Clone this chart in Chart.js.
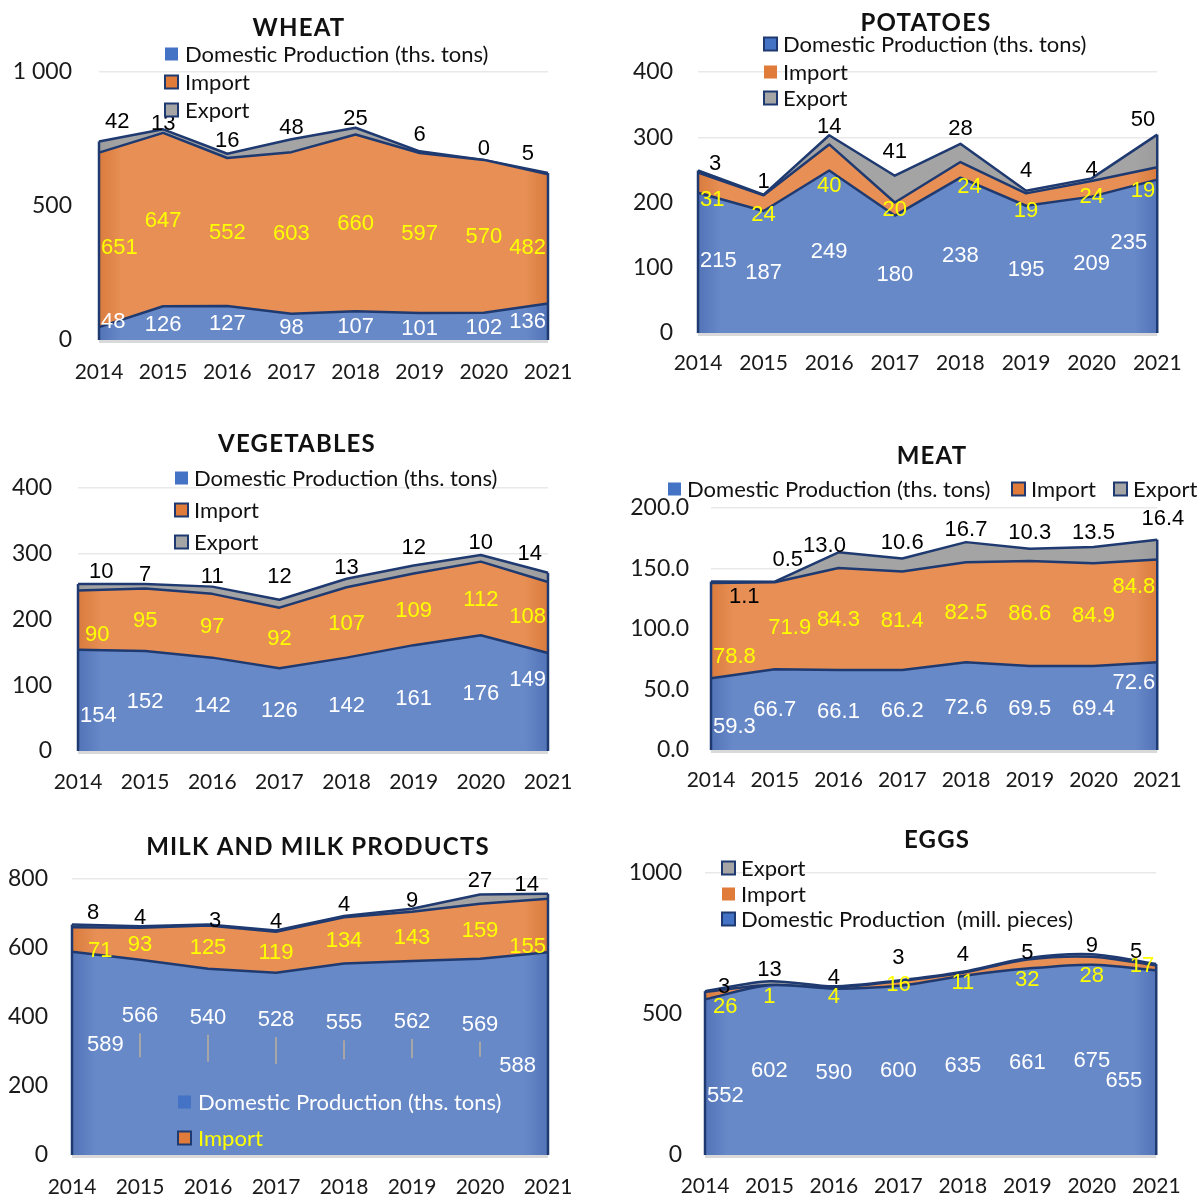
<!DOCTYPE html>
<html>
<head>
<meta charset="utf-8">
<title>Food balance 2014–2021</title>
<script src="https://cdn.jsdelivr.net/npm/chart.js@4.4.1/dist/chart.umd.min.js"></script>
<style>
  html, body { margin: 0; padding: 0; background: #ffffff; }
  #page { position: relative; width: 1199px; height: 1197px; overflow: hidden; }
  #page canvas { position: absolute; }
</style>
</head>
<body>
<div id="page">
  <canvas id="wheat" width="600" height="400" style="left:0;top:0"></canvas>
  <canvas id="potatoes" width="599" height="400" style="left:600px;top:0"></canvas>
  <canvas id="vegetables" width="600" height="410" style="left:0;top:400px"></canvas>
  <canvas id="meat" width="599" height="410" style="left:600px;top:400px"></canvas>
  <canvas id="milk" width="600" height="387" style="left:0;top:810px"></canvas>
  <canvas id="eggs" width="599" height="387" style="left:600px;top:810px"></canvas>
</div>
<script>
// ---- data -------------------------------------------------------------
const years = ['2014', '2015', '2016', '2017', '2018', '2019', '2020', '2021'];

const wheatDomestic = [48, 126, 127, 98, 107, 101, 102, 136];
const wheatImport   = [651, 647, 552, 603, 660, 597, 570, 482];
const wheatExport   = [42, 13, 16, 48, 25, 6, 0, 5];
const wheatTicks    = [0, 500, 1000];
const wheatTickText = ['0', '500', '1 000'];

const potatoDomestic = [215, 187, 249, 180, 238, 195, 209, 235];
const potatoImport   = [31, 24, 40, 20, 24, 19, 24, 19];
const potatoExport   = [3, 1, 14, 41, 28, 4, 4, 50];
const potatoTicks    = [0, 100, 200, 300, 400];
const potatoTickText = ['0', '100', '200', '300', '400'];

const vegDomestic = [154, 152, 142, 126, 142, 161, 176, 149];
const vegImport   = [90, 95, 97, 92, 107, 109, 112, 108];
const vegExport   = [10, 7, 11, 12, 13, 12, 10, 14];
const vegTicks    = [0, 100, 200, 300, 400];
const vegTickText = ['0', '100', '200', '300', '400'];

const meatDomestic = [59.3, 66.7, 66.1, 66.2, 72.6, 69.5, 69.4, 72.6];
const meatImport   = [78.8, 71.9, 84.3, 81.4, 82.5, 86.6, 84.9, 84.8];
const meatExport   = [1.1, 0.5, 13.0, 10.6, 16.7, 10.3, 13.5, 16.4];
const meatTicks    = [0, 50, 100, 150, 200];
const meatTickText = ['0.0', '50.0', '100.0', '150.0', '200.0'];

const milkDomestic = [589, 566, 540, 528, 555, 562, 569, 588];
const milkImport   = [71, 93, 125, 119, 134, 143, 159, 155];
const milkExport   = [8, 4, 3, 4, 4, 9, 27, 14];
const milkTicks    = [0, 200, 400, 600, 800];
const milkTickText = ['0', '200', '400', '600', '800'];

const eggDomestic = [552, 602, 590, 600, 635, 661, 675, 655];
const eggImport   = [26, 1, 4, 16, 11, 32, 28, 17];
const eggExport   = [3, 13, 4, 3, 4, 5, 9, 5];
const eggTicks    = [0, 500, 1000];
const eggTickText = ['0', '500', '1000'];

const nameTons   = 'Domestic Production (ths. tons)';
const namePieces = 'Domestic Production  (mill. pieces)';
const nameImport = 'Import';
const nameExport = 'Export';

// ---- styling ----------------------------------------------------------
const NAVY = '#1f3a70';
const FILLS = [
  { base: '#6789c8', edge: '#5274b8' },   // domestic production
  { base: '#e78f55', edge: '#d97b3d' },   // import
  { base: '#a4a4a4', edge: '#9c9c9c' }    // export
];
const SWATCH = ['#4472c4', '#e07b39', '#a5a5a5'];
const LABEL_COLORS = ['#ffffff', '#ffff00', '#000000'];
const LABEL_FONT = '22px "Liberation Sans", Arial, sans-serif';
const TEXT_FONT = 'Lato, "Noto Sans", sans-serif';

function edgeGradient(chart, s) {
  const a = chart.chartArea;
  if (!a) return FILLS[s].base;
  const g = chart.ctx.createLinearGradient(a.left, 0, a.right, 0);
  g.addColorStop(0, FILLS[s].edge);
  g.addColorStop(0.05, FILLS[s].base);
  g.addColorStop(0.95, FILLS[s].base);
  g.addColorStop(1, FILLS[s].edge);
  return g;
}

// label nudges in pixels (dy from the anchor, dx after clamping into the plot)
const specs = [
  {
    id: 'wheat', title: 'WHEAT', titleX: 299, titleY: 28,
    series: [wheatDomestic, wheatImport, wheatExport],
    names: [nameTons, nameImport, nameExport],
    ticks: wheatTicks, tickText: wheatTickText, fmt: v => String(v),
    area: { left: 99, right: 548, top: 72, bottom: 340 }, yPad: 27, xOff: 32, tension: 0,
    legend: [
      { s: 0, x: 165, tx: 185, y: 54, border: false },
      { s: 1, x: 165, tx: 185, y: 82, border: true },
      { s: 2, x: 165, tx: 185, y: 110, border: true }
    ],
    labels: [
      { anchor: 'center', dy: [-12, 2, 1, 1, 1, 2, 2, 0] },
      { anchor: 'center', dy: [8, 1, 1, 1, 1, 1, 1, 9] },
      { anchor: 'top', dy: [-19, -5, -13, -11, -9, -16, -11, -19], dx: [4, 0, 0, 0, 0, 0, 0, -12] }
    ]
  },
  {
    id: 'potatoes', title: 'POTATOES', titleX: 326, titleY: 23,
    series: [potatoDomestic, potatoImport, potatoExport],
    names: [nameTons, nameImport, nameExport],
    ticks: potatoTicks, tickText: potatoTickText, fmt: v => String(v),
    area: { left: 98, right: 568, top: 72, bottom: 333 }, yPad: 25, xOff: 30, tension: 0,
    legend: [
      { s: 0, x: 164, tx: 183, y: 44, border: true },
      { s: 1, x: 164, tx: 183, y: 72, border: false },
      { s: 2, x: 164, tx: 183, y: 98, border: true }
    ],
    labels: [
      { anchor: 'center', dy: [-2, 1, 0, 1, 1, 1, -1, -13], dx: [0, 0, 0, 0, 0, 0, 0, -8] },
      { anchor: 'center', dy: [17, 12, 28, 1, 17, 11, 8, 17], dx: [0, 0, 0, 0, 9, 0, 0, 0] },
      { anchor: 'top', dy: [-7, -13, -8, -24, -15, -20, -8, -15], dx: [9, 0, 0, 0, 0, 0, 0, 0] }
    ]
  },
  {
    id: 'vegetables', title: 'VEGETABLES', titleX: 297, titleY: 44,
    series: [vegDomestic, vegImport, vegExport],
    names: [nameTons, nameImport, nameExport],
    ticks: vegTicks, tickText: vegTickText, fmt: v => String(v),
    area: { left: 78, right: 548, top: 88, bottom: 351 }, yPad: 26, xOff: 31, tension: 0,
    legend: [
      { s: 0, x: 175, tx: 194, y: 78, border: false },
      { s: 1, x: 175, tx: 194, y: 110, border: true },
      { s: 2, x: 175, tx: 194, y: 142, border: true }
    ],
    labels: [
      { anchor: 'center', dy: [16, 1, 2, 1, 2, 1, 1, -22] },
      { anchor: 'center', dy: [15, 1, 1, 1, 1, 2, 1, -1], dx: [5, 0, 0, 0, 0, 0, 0, 0] },
      { anchor: 'top', dy: [-12, -9, -10, -23, -11, -18, -12, -19], dx: [9, 0, 0, 0, 0, 0, 0, -4] }
    ]
  },
  {
    id: 'meat', title: 'MEAT', titleX: 332, titleY: 56,
    series: [meatDomestic, meatImport, meatExport],
    names: [nameTons, nameImport, nameExport],
    ticks: meatTicks, tickText: meatTickText, fmt: v => v.toFixed(1),
    area: { left: 111, right: 568, top: 108, bottom: 350 }, yPad: 22, xOff: 30, tension: 0,
    legend: [
      { s: 0, x: 68, tx: 87, y: 89, border: false },
      { s: 1, x: 412, tx: 431, y: 89, border: true },
      { s: 2, x: 514, tx: 533, y: 89, border: true }
    ],
    labels: [
      { anchor: 'center', dy: [13, 0, 2, 1, 2, 1, 1, -23] },
      { anchor: 'center', dy: [26, 2, 1, 0, 1, 0, 1, -24], dx: [0, 15, 0, 0, 0, 0, 0, 0] },
      { anchor: 'top', dy: [15, -22, -6, -16, -12, -16, -14, -21], dx: [16, 13, -14, 0, 0, 0, 0, 29] }
    ]
  },
  {
    id: 'milk', title: 'MILK AND MILK PRODUCTS', titleX: 318, titleY: 37,
    series: [milkDomestic, milkImport, milkExport],
    names: [nameTons, nameImport, nameExport],
    ticks: milkTicks, tickText: milkTickText, fmt: v => String(v),
    area: { left: 72, right: 548, top: 69, bottom: 345 }, yPad: 24, xOff: 32, tension: 0,
    legend: [
      { s: 0, x: 178, tx: 198, y: 292, border: false, color: '#ffffff' },
      { s: 1, x: 178, tx: 198, y: 328, border: true, color: '#ffff00' }
    ],
    labels: [
      { anchor: 'center', leader: true, dy: [-8, -41, -44, -44, -36, -36, -32, 12], dx: [13, 0, 0, 0, 0, 0, 0, -10] },
      { anchor: 'center', dy: [11, 1, 1, 1, 1, 1, 0, 22], dx: [14, 0, 0, 0, 0, 0, 0, 0] },
      { anchor: 'top', dy: [-12, -8, -4, -8, -11, -8, -14, -9], dx: [13, 0, 7, 0, 0, 0, 0, -7] }
    ]
  },
  {
    id: 'eggs', title: 'EGGS', titleX: 337, titleY: 30,
    series: [eggDomestic, eggImport, eggExport],
    names: [namePieces, nameImport, nameExport],
    ticks: eggTicks, tickText: eggTickText, fmt: v => String(v),
    area: { left: 105, right: 568, top: 63, bottom: 345 }, yPad: 23, xOff: 31, tension: 0.3,
    legend: [
      { s: 2, x: 122, tx: 141, y: 58, border: true },
      { s: 1, x: 122, tx: 141, y: 84, border: false },
      { s: 0, x: 122, tx: 141, y: 109, border: true }
    ],
    labels: [
      { anchor: 'center', dy: [19, 1, 1, 1, 0, 1, 1, 18], dx: [0, 0, 0, 0, 0, 0, 0, -12] },
      { anchor: 'center', dy: [11, 12, 9, 1, 9, 16, 15, -2], dx: [6, 0, 0, 0, 0, 0, 0, 0] },
      { anchor: 'top', dy: [-4, -11, -8, -23, -17, -5, -8, -12], dx: [11, 0, 0, 0, 0, 0, 0, -12] }
    ]
  }
];

// ---- overlay: baseline, side edges, value labels, title and legend ----
function makeOverlay(spec) {
  return {
    id: 'overlay',
    beforeDatasetsDraw(chart) {
      const { ctx, chartArea: a } = chart;
      ctx.save();
      ctx.strokeStyle = '#d9d9d9';
      ctx.lineWidth = 3;
      ctx.beginPath();
      ctx.moveTo(a.left, a.bottom + 1.5);
      ctx.lineTo(a.right, a.bottom + 1.5);
      ctx.stroke();
      ctx.restore();
    },
    afterDatasetsDraw(chart) {
      const { ctx, chartArea: a, scales: { x, y } } = chart;
      const series = spec.series;
      const last = years.length - 1;
      ctx.save();
      // closing edges of the stacked areas at the first and last year
      ctx.strokeStyle = NAVY;
      ctx.lineWidth = 2.5;
      [0, last].forEach(i => {
        const total = series.reduce((t, arr) => t + arr[i], 0);
        const px = x.getPixelForValue(i);
        ctx.beginPath();
        ctx.moveTo(px, y.getPixelForValue(0));
        ctx.lineTo(px, y.getPixelForValue(total));
        ctx.stroke();
      });
      // value labels
      ctx.font = LABEL_FONT;
      ctx.textAlign = 'center';
      ctx.textBaseline = 'middle';
      series.forEach((arr, s) => {
        const lab = spec.labels[s];
        arr.forEach((v, i) => {
          let base = 0;
          for (let k = 0; k < s; k++) base += series[k][i];
          const pBase = y.getPixelForValue(base);
          const pTop = y.getPixelForValue(base + v);
          const anchorY = lab.anchor === 'top' ? pTop : (pBase + pTop) / 2;
          const text = spec.fmt(v);
          const w = ctx.measureText(text).width;
          const px0 = x.getPixelForValue(i);
          let px = Math.min(Math.max(px0, a.left + w / 2 + 2), a.right - w / 2 - 2);
          px += lab.dx ? lab.dx[i] : 0;
          const py = anchorY + lab.dy[i];
          if (lab.leader && Math.abs(lab.dy[i]) > 20) {
            ctx.strokeStyle = '#a6a6a6';
            ctx.lineWidth = 2;
            ctx.beginPath();
            ctx.moveTo(px0, py + 17);
            ctx.lineTo(px0, anchorY);
            ctx.stroke();
          }
          ctx.fillStyle = LABEL_COLORS[s];
          ctx.fillText(text, px, py);
        });
      });
      ctx.restore();
    },
    afterDraw(chart) {
      const { ctx } = chart;
      ctx.save();
      // title
      ctx.font = 'bold 24px ' + TEXT_FONT;
      if ('letterSpacing' in ctx) ctx.letterSpacing = '1.2px';
      ctx.fillStyle = '#111111';
      ctx.textAlign = 'center';
      ctx.textBaseline = 'middle';
      ctx.fillText(spec.title, spec.titleX, spec.titleY);
      if ('letterSpacing' in ctx) ctx.letterSpacing = '0px';
      // legend
      ctx.font = '22px ' + TEXT_FONT;
      ctx.textAlign = 'left';
      spec.legend.forEach(item => {
        ctx.fillStyle = SWATCH[item.s];
        ctx.fillRect(item.x, item.y - 6.5, 13, 13);
        if (item.border) {
          ctx.strokeStyle = NAVY;
          ctx.lineWidth = 2;
          ctx.strokeRect(item.x, item.y - 6.5, 13, 13);
        }
        ctx.fillStyle = item.color || '#111111';
        ctx.fillText(spec.names[item.s], item.tx, item.y + 1);
      });
      ctx.restore();
    }
  };
}

function buildChart(spec) {
  const canvas = document.getElementById(spec.id);
  const W = canvas.width, H = canvas.height, a = spec.area;
  const xFont = 21, yFont = 23;
  const datasets = spec.series.map((arr, s) => ({
    label: spec.names[s],
    data: arr,
    fill: s === 0 ? 'origin' : '-1',
    backgroundColor: ctx => edgeGradient(ctx.chart, s),
    borderColor: NAVY,
    borderWidth: 2.5,
    borderJoinStyle: 'round',
    pointRadius: 0,
    pointHoverRadius: 0,
    tension: spec.tension
  }));
  return new Chart(canvas, {
    type: 'line',
    data: { labels: years, datasets },
    options: {
      responsive: false,
      animation: false,
      devicePixelRatio: 1,
      events: [],
      layout: { padding: { left: 0, right: W - a.right, top: a.top, bottom: 0 } },
      plugins: {
        legend: { display: false },
        title: { display: false },
        tooltip: { enabled: false }
      },
      scales: {
        x: {
          offset: false,
          grid: { display: false, drawTicks: false },
          border: { display: false },
          ticks: {
            autoSkip: false, maxRotation: 0, minRotation: 0,
            padding: spec.xOff - xFont * 0.6,
            color: '#1a1a1a',
            font: { family: TEXT_FONT, size: xFont }
          },
          afterFit: scale => { scale.height = H - a.bottom; }
        },
        y: {
          stacked: true,
          min: spec.ticks[0],
          max: spec.ticks[spec.ticks.length - 1],
          grid: { color: '#e9e9e9', lineWidth: 1.5, drawTicks: false },
          border: { display: false },
          ticks: {
            stepSize: spec.ticks[1] - spec.ticks[0],
            padding: spec.yPad,
            color: '#1a1a1a',
            font: { family: TEXT_FONT, size: yFont },
            callback: v => {
              const k = spec.ticks.indexOf(v);
              return k >= 0 ? spec.tickText[k] : '';
            }
          },
          afterFit: scale => { scale.width = a.left; }
        }
      }
    },
    plugins: [makeOverlay(spec)]
  });
}

function buildAll() { specs.forEach(buildChart); }

Promise.all([
  document.fonts.load('22px Lato'),
  document.fonts.load('bold 24px Lato'),
  document.fonts.load('22px "Liberation Sans"')
]).then(buildAll, buildAll);
</script>
</body>
</html>
